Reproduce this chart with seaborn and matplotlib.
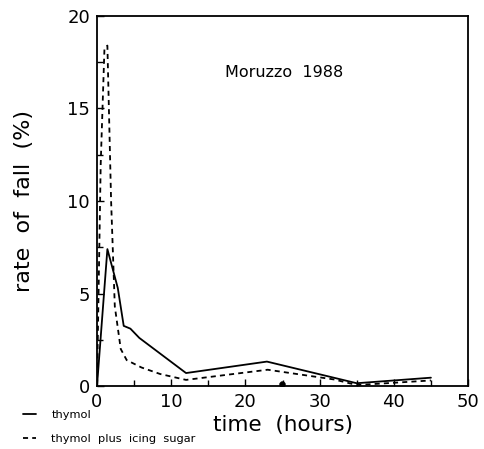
import matplotlib
matplotlib.use("Agg")
import matplotlib.pyplot as plt
import seaborn as sns
import pandas as pd
from matplotlib.ticker import MultipleLocator

# data
thymol_t = [0, 1.4, 2.8, 3.6, 4.5, 5.7, 12.0, 22.9, 35.0, 45.0]
thymol_v = [0, 7.4, 5.3, 3.25, 3.1, 2.6, 0.7, 1.32, 0.15, 0.45]
sugar_t = [0, 0.5, 1.0, 1.4, 1.9, 2.4, 3.2, 4.0, 6.0, 8.5, 12.0, 23.0, 32.0, 35.0, 45.0]
sugar_v = [0, 12.0, 18.2, 18.4, 10.0, 4.3, 2.0, 1.4, 1.0, 0.65, 0.33, 0.88, 0.35, 0.05, 0.3]
dot_t = [24.9]
dot_v = [0.1]

sns.set_style("ticks")
plt.rcParams['font.family'] = ['DejaVu Sans']
plt.rcParams['text.color'] = 'black'
plt.rcParams['axes.labelcolor'] = 'black'
plt.rcParams['xtick.color'] = 'black'
plt.rcParams['ytick.color'] = 'black'

fig = plt.figure(figsize=(4.85, 4.49), dpi=100)
ax = fig.add_axes([0.2, 0.1403, 0.765, 0.8241])

df1 = pd.DataFrame({"t": thymol_t, "v": thymol_v})
df2 = pd.DataFrame({"t": sugar_t, "v": sugar_v})
sns.lineplot(data=df1, x="t", y="v", ax=ax, color="black", lw=1.3, sort=False,
             label="thymol")
sns.lineplot(data=df2, x="t", y="v", ax=ax, color="black", lw=1.3, sort=False,
             dashes=False, label="thymol  plus  icing  sugar")
ax.lines[1].set_dashes((2.8, 2.3))
sns.scatterplot(x=dot_t, y=dot_v, ax=ax, color="black", s=18, edgecolor="black")

ax.set_xlim(0, 50)
ax.set_ylim(0, 20)
ax.xaxis.set_major_locator(MultipleLocator(10))
ax.xaxis.set_minor_locator(MultipleLocator(5))
ax.yaxis.set_major_locator(MultipleLocator(5))
ax.yaxis.set_minor_locator(MultipleLocator(2.5))
ax.tick_params(which="both", direction="in", length=5, width=1, labelsize=13,
               pad=5, color="black", labelcolor="black")
ax.tick_params(which="minor", length=4)
for s in ax.spines.values():
    s.set_linewidth(1.3)
    s.set_color("black")

ax.set_xlabel("time  (hours)", fontsize=15.5, labelpad=3)
ax.set_ylabel("rate  of  fall  (%)", fontsize=16, labelpad=24)
ax.text(0.345, 0.846, "Moruzzo  1988", transform=ax.transAxes, fontsize=11.5,
        va="center")

leg = ax.legend(loc="upper left", bbox_to_anchor=(-0.2, -0.066), frameon=False,
                fontsize=8.2, handlelength=1.2, handletextpad=1.3, labelspacing=1.15,
                borderaxespad=0, borderpad=0)

fig.savefig("out.png", dpi=100)
